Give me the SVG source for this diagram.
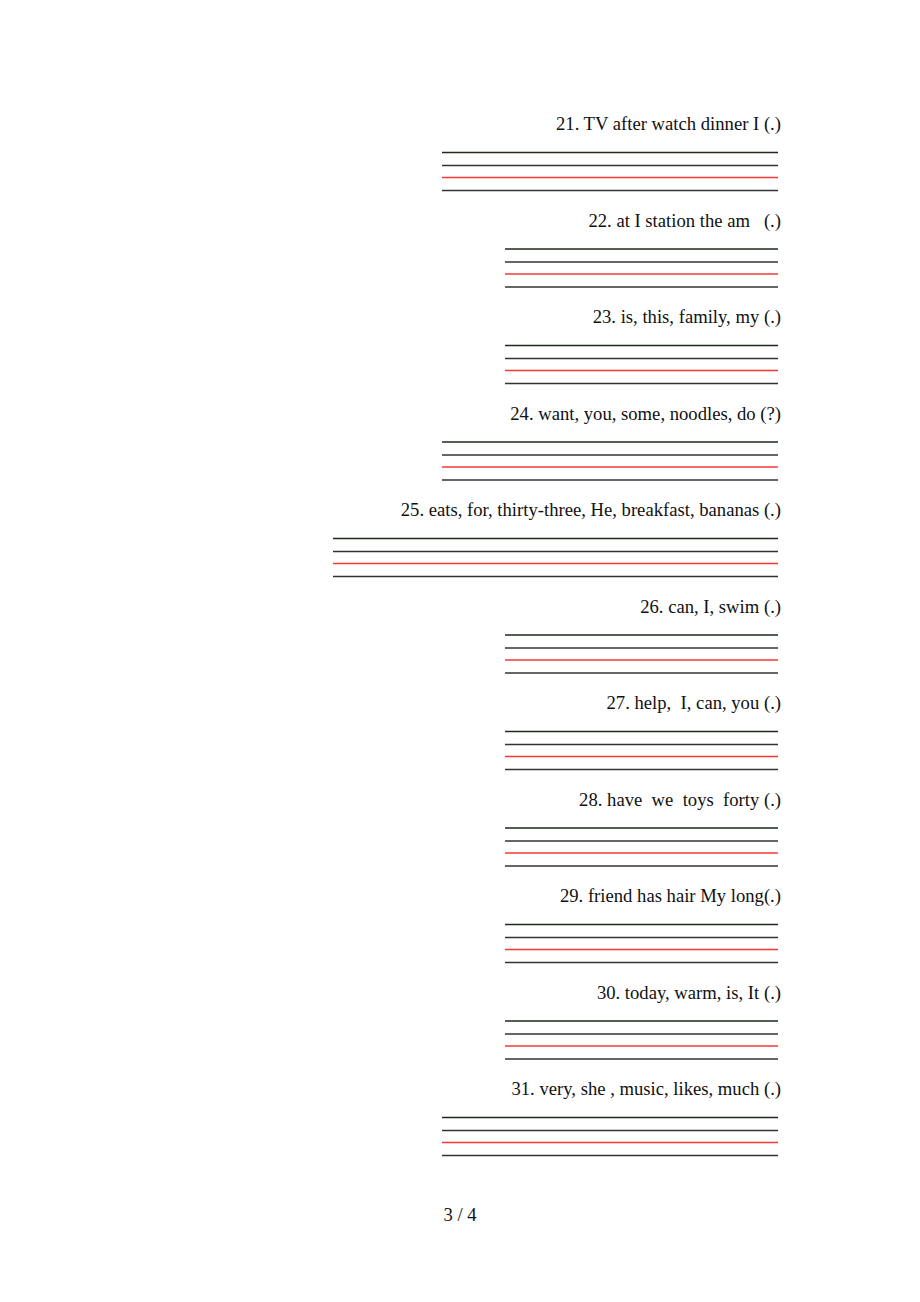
<svg xmlns="http://www.w3.org/2000/svg" width="920" height="1302" viewBox="0 0 920 1302">
<style>
text{font-family:"Liberation Serif","Times New Roman",serif;font-size:18.65px;fill:#111}
.q{text-anchor:end}
.a{stroke:#1e2a1e;stroke-width:1.3}
.b{stroke:#333;stroke-width:1.3}
.r{stroke:#f03a3a;stroke-width:1.3}
</style>
<rect width="920" height="1302" fill="#fff"/>
<defs>
<g id="L442"><line class="a" x1="442" y1="28.5" x2="778" y2="28.5"/><line class="b" x1="442" y1="41.5" x2="778" y2="41.5"/><line class="r" x1="442" y1="53.5" x2="778" y2="53.5"/><line class="b" x1="442" y1="66.5" x2="778" y2="66.5"/></g>
<g id="L505"><line class="a" x1="505" y1="28.5" x2="778" y2="28.5"/><line class="b" x1="505" y1="41.5" x2="778" y2="41.5"/><line class="r" x1="505" y1="53.5" x2="778" y2="53.5"/><line class="b" x1="505" y1="66.5" x2="778" y2="66.5"/></g>
<g id="L333"><line class="a" x1="333" y1="28.5" x2="778" y2="28.5"/><line class="b" x1="333" y1="41.5" x2="778" y2="41.5"/><line class="r" x1="333" y1="53.5" x2="778" y2="53.5"/><line class="b" x1="333" y1="66.5" x2="778" y2="66.5"/></g>
</defs>
<g id="q21" transform="translate(0,124)"><text class="q" x="781" y="6">21. TV after watch dinner I (.)</text><use href="#L442"/></g>
<g id="q22" transform="translate(0,220.5)"><text class="q" x="781" y="6" xml:space="preserve">22. at I station the am   (.)</text><use href="#L505"/></g>
<g id="q23" transform="translate(0,317)"><text class="q" x="781" y="6">23. is, this, family, my (.)</text><use href="#L505"/></g>
<g id="q24" transform="translate(0,413.5)"><text class="q" x="781" y="6">24. want, you, some, noodles, do (?)</text><use href="#L442"/></g>
<g id="q25" transform="translate(0,510)"><text class="q" x="781" y="6">25. eats, for, thirty-three, He, breakfast, bananas (.)</text><use href="#L333"/></g>
<g id="q26" transform="translate(0,606.5)"><text class="q" x="781" y="6">26. can, I, swim (.)</text><use href="#L505"/></g>
<g id="q27" transform="translate(0,703)"><text class="q" x="781" y="6" xml:space="preserve">27. help,  I, can, you (.)</text><use href="#L505"/></g>
<g id="q28" transform="translate(0,799.5)"><text class="q" x="781" y="6" xml:space="preserve">28. have  we  toys  forty (.)</text><use href="#L505"/></g>
<g id="q29" transform="translate(0,896)"><text class="q" x="781" y="6">29. friend has hair My long(.)</text><use href="#L505"/></g>
<g id="q30" transform="translate(0,992.5)"><text class="q" x="781" y="6">30. today, warm, is, It (.)</text><use href="#L505"/></g>
<g id="q31" transform="translate(0,1089)"><text class="q" x="781" y="6">31. very, she , music, likes, much (.)</text><use href="#L442"/></g>
<g id="page"><text x="460" y="1221" text-anchor="middle">3 / 4</text></g>
</svg>
